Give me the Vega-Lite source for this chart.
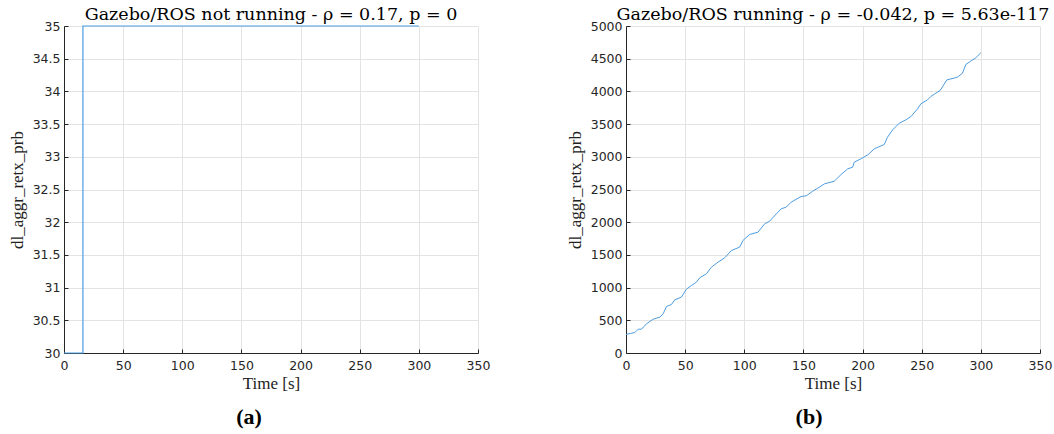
{
  "$schema": "https://vega.github.io/schema/vega-lite/v6.json",
  "background": "white",
  "padding": {"left": 8, "top": 5, "right": 5, "bottom": 3},
  "spacing": 76,
  "config": {
    "view": {"stroke": null},
    "axis": {
      "domainColor": "#262626",
      "tickColor": "#262626",
      "tickSize": -4,
      "labelPadding": 8,
      "labelFont": "DejaVu Sans",
      "labelFontSize": 12.5,
      "labelColor": "#262626",
      "titleFont": "Liberation Serif",
      "titleFontSize": 17,
      "titleFontWeight": "normal",
      "titleColor": "#222222",
      "gridColor": "#e3e3e3",
      "gridWidth": 1,
      "labelFlush": false
    },
    "axisX": {"labelPadding": 10, "titlePadding": 4}
  },
  "datasets": {
    "a": [
      {"t": 0, "v": 30},
      {"t": 16, "v": 30},
      {"t": 16, "v": 35},
      {"t": 300, "v": 35}
    ],
    "b": [
      {"t": 0, "v": 283},
      {"t": 4, "v": 300},
      {"t": 7.5, "v": 313},
      {"t": 10.3, "v": 364},
      {"t": 13.1, "v": 364},
      {"t": 17.3, "v": 446},
      {"t": 22.9, "v": 517},
      {"t": 28.6, "v": 548},
      {"t": 31.4, "v": 599},
      {"t": 34.2, "v": 711},
      {"t": 38.4, "v": 742},
      {"t": 41.2, "v": 813},
      {"t": 46.8, "v": 854},
      {"t": 51.1, "v": 976},
      {"t": 55.3, "v": 1032},
      {"t": 59.5, "v": 1083},
      {"t": 62.3, "v": 1150},
      {"t": 67.9, "v": 1210},
      {"t": 72.2, "v": 1312},
      {"t": 77.8, "v": 1389},
      {"t": 83.4, "v": 1455},
      {"t": 89.1, "v": 1567},
      {"t": 96.1, "v": 1619},
      {"t": 98.9, "v": 1721},
      {"t": 104.5, "v": 1812},
      {"t": 111.6, "v": 1848},
      {"t": 117.2, "v": 1975},
      {"t": 121.4, "v": 2016},
      {"t": 127.1, "v": 2128},
      {"t": 131.2, "v": 2205},
      {"t": 135.4, "v": 2230},
      {"t": 139.6, "v": 2306},
      {"t": 148, "v": 2393},
      {"t": 152.3, "v": 2403},
      {"t": 157.9, "v": 2474},
      {"t": 163.5, "v": 2535},
      {"t": 167.7, "v": 2586},
      {"t": 176.1, "v": 2627},
      {"t": 181.8, "v": 2729},
      {"t": 187.4, "v": 2815},
      {"t": 191.6, "v": 2841},
      {"t": 193, "v": 2918},
      {"t": 198.6, "v": 2969},
      {"t": 204.8, "v": 3035},
      {"t": 209.9, "v": 3122},
      {"t": 218.3, "v": 3188},
      {"t": 221.1, "v": 3300},
      {"t": 225.4, "v": 3412},
      {"t": 231, "v": 3514},
      {"t": 236.6, "v": 3565},
      {"t": 240.9, "v": 3616},
      {"t": 246.5, "v": 3733},
      {"t": 249.3, "v": 3810},
      {"t": 254.9, "v": 3871},
      {"t": 257.7, "v": 3922},
      {"t": 262, "v": 3973},
      {"t": 265.6, "v": 4014},
      {"t": 271.3, "v": 4177},
      {"t": 277.4, "v": 4203},
      {"t": 280.2, "v": 4218},
      {"t": 284.5, "v": 4279},
      {"t": 287.3, "v": 4412},
      {"t": 291.5, "v": 4463},
      {"t": 295.7, "v": 4514},
      {"t": 300, "v": 4590}
    ]
  },
  "hconcat": [
    {
      "title": {"text": "(a)", "orient": "bottom", "anchor": "middle", "font": "Liberation Serif", "fontSize": 22, "fontWeight": "bold", "color": "#000000", "offset": 15},
      "vconcat": [
        {
          "title": {"text": "Gazebo/ROS not running - ρ = 0.17, p = 0", "anchor": "middle", "font": "DejaVu Serif", "fontSize": 17.5, "fontWeight": "normal", "color": "#000000", "offset": -3},
          "width": 414,
          "height": 327,
          "data": {"name": "a"},
          "mark": {"type": "line", "color": "#4d9de0", "strokeWidth": 1.2, "clip": false},
          "encoding": {
            "x": {"field": "t", "type": "quantitative", "scale": {"domain": [0, 350], "nice": false},
                  "axis": {"values": [0, 50, 100, 150, 200, 250, 300, 350], "title": "Time [s]"}},
            "y": {"field": "v", "type": "quantitative", "scale": {"domain": [30, 35], "nice": false, "zero": false},
                  "axis": {"values": [30, 30.5, 31, 31.5, 32, 32.5, 33, 33.5, 34, 34.5, 35], "format": "~g", "title": "dl_aggr_retx_prb", "titlePadding": 6}}
          }
        }
      ]
    },
    {
      "title": {"text": "(b)", "orient": "bottom", "anchor": "middle", "font": "Liberation Serif", "fontSize": 22, "fontWeight": "bold", "color": "#000000", "offset": 15},
      "vconcat": [
        {
          "title": {"text": "Gazebo/ROS running - ρ = -0.042, p = 5.63e-117", "anchor": "middle", "font": "DejaVu Serif", "fontSize": 17.5, "fontWeight": "normal", "color": "#000000", "offset": -3},
          "width": 414,
          "height": 327,
          "data": {"name": "b"},
          "mark": {"type": "line", "color": "#4d9de0", "strokeWidth": 1},
          "encoding": {
            "x": {"field": "t", "type": "quantitative", "scale": {"domain": [0, 350], "nice": false},
                  "axis": {"values": [0, 50, 100, 150, 200, 250, 300, 350], "title": "Time [s]"}},
            "y": {"field": "v", "type": "quantitative", "scale": {"domain": [0, 5000], "nice": false},
                  "axis": {"values": [0, 500, 1000, 1500, 2000, 2500, 3000, 3500, 4000, 4500, 5000], "format": "d", "title": "dl_aggr_retx_prb", "titlePadding": 6}}
          }
        }
      ]
    }
  ]
}
